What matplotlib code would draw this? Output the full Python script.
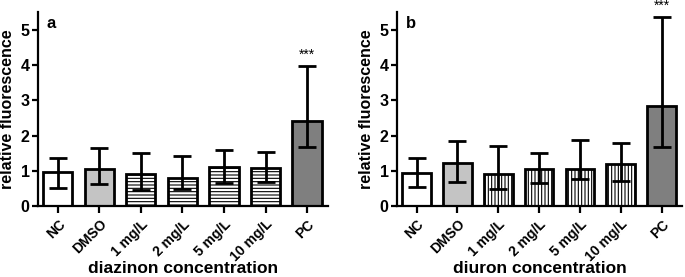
import matplotlib
matplotlib.use("Agg")
import matplotlib.pyplot as plt
import numpy as np

plt.rcParams['font.family'] = ['Liberation Sans', 'DejaVu Sans']
plt.rcParams['font.weight'] = 'bold'
plt.rcParams['hatch.linewidth'] = 0.8

categories = ["NC", "DMSO", "1 mg/L", "2 mg/L", "5 mg/L", "10 mg/L", "PC"]

diazinon_mean = [0.97, 1.06, 0.92, 0.80, 1.10, 1.08, 2.42]
diazinon_upper = [1.36, 1.65, 1.51, 1.42, 1.58, 1.53, 3.97]
diazinon_lower = [0.50, 0.63, 0.45, 0.48, 0.65, 0.68, 1.67]

diuron_mean = [0.94, 1.23, 0.92, 1.06, 1.06, 1.18, 2.83]
diuron_upper = [1.36, 1.86, 1.71, 1.51, 1.88, 1.78, 5.36]
diuron_lower = [0.53, 0.68, 0.48, 0.66, 0.76, 0.70, 1.68]

fills = ["white", "#c4c4c4", "white", "white", "white", "white", "#7f7f7f"]

fig = plt.figure(figsize=(6.85, 2.77), dpi=100)

def panel(rect, means, upper, lower, hatch, letter, xlabel):
    ax = fig.add_axes(rect)
    x = np.arange(len(categories))
    hatches = [None, None, hatch, hatch, hatch, hatch, None]
    for i in range(len(categories)):
        ax.bar(x[i], means[i], width=0.7, color=fills[i], edgecolor="black",
               linewidth=2, hatch=hatches[i], zorder=2)
    m = np.array(means)
    yerr = [m - np.array(lower), np.array(upper) - m]
    ax.errorbar(x, m, yerr=yerr, fmt="none", ecolor="black", elinewidth=2,
                capsize=6.5, capthick=2, zorder=3)
    ax.text(x[-1], upper[-1] + 0.12, "***", ha="center", va="bottom",
            fontsize=10, fontweight="normal")
    ax.set_xlim(-0.48, 6.5)
    ax.set_ylim(0, 5.5)
    ax.set_yticks([0, 1, 2, 3, 4, 5])
    ax.set_xticks(x)
    ax.set_xticklabels(categories, rotation=45, ha="right", rotation_mode="anchor",
                       fontsize=10, fontweight="bold")
    for lab in ax.get_yticklabels():
        lab.set_fontsize(11.5)
        lab.set_fontweight("bold")
    ax.spines["top"].set_visible(False)
    ax.spines["right"].set_visible(False)
    ax.spines["left"].set_linewidth(1.6)
    ax.spines["bottom"].set_linewidth(1.6)
    ax.tick_params(axis="both", width=1.6, length=4, pad=2)
    ax.tick_params(axis="x", length=5, pad=3)
    ax.set_ylabel("relative fluorescence", fontsize=11.5, fontweight="bold", labelpad=4)
    ax.set_xlabel(xlabel, fontsize=12.5, fontweight="bold", va="baseline")
    ax.xaxis.set_label_coords(0.5, -0.343)
    ax.text(0.03, 0.98, letter, transform=ax.transAxes, ha="left", va="top",
            fontsize=12, fontweight="bold")
    return ax

panel([0.0555, 0.256, 0.423, 0.70], diazinon_mean, diazinon_upper, diazinon_lower,
      "-----", "a", "diazinon concentration")
panel([0.5796, 0.256, 0.416, 0.70], diuron_mean, diuron_upper, diuron_lower,
      "|||||", "b", "diuron concentration")

fig.savefig("out.png", dpi=100)
